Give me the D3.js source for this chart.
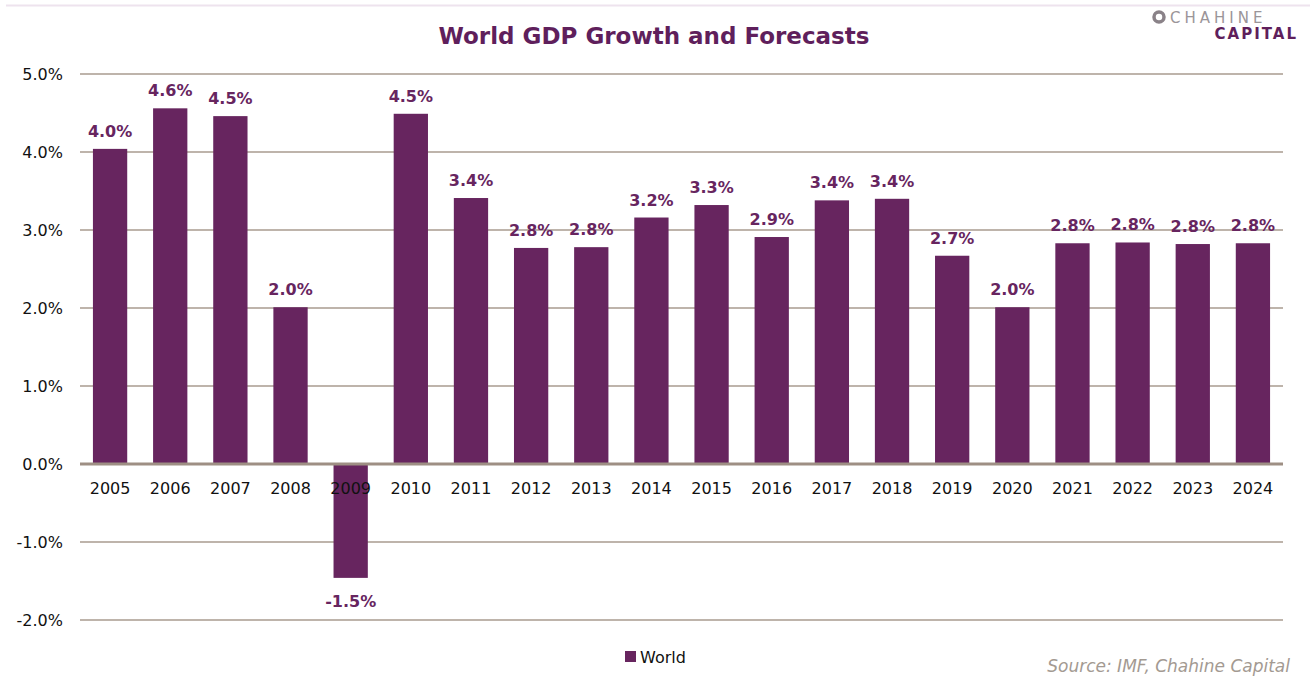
<!DOCTYPE html>
<html>
<head>
<meta charset="utf-8">
<script src="https://cdn.jsdelivr.net/npm/d3@7"></script>
<style>
  body { margin: 0; background: #fff; }
  text { font-family: "DejaVu Sans", Verdana, sans-serif; }
</style>
</head>
<body>
<div id="chart"></div>
<script>
// Data
const years = ["2005", "2006", "2007", "2008", "2009", "2010", "2011", "2012", "2013", "2014",
               "2015", "2016", "2017", "2018", "2019", "2020", "2021", "2022", "2023", "2024"];
const growth = [4.04, 4.56, 4.46, 2.01, -1.46, 4.49, 3.41, 2.77, 2.78, 3.16,
                3.32, 2.91, 3.38, 3.40, 2.67, 2.01, 2.83, 2.84, 2.82, 2.83];
const yTicks = [-2, -1, 0, 1, 2, 3, 4, 5];

const svgWidth = 1310;
const svgHeight = 677;
const margin = { top: 74, right: 27, bottom: 57, left: 80 };
const width = svgWidth - margin.left - margin.right;
const height = svgHeight - margin.top - margin.bottom;

const purple = "#67255f";
const gridColor = "#a99b8f";

// plain hyphen for negatives, like the original
const pct = d => d3.format(".1f")(d).replace("\u2212", "-") + "%";

const svg = d3.select("#chart")
    .append("svg")
    .attr("width", svgWidth)
    .attr("height", svgHeight);

// faint top border
svg.append("line")
    .attr("x1", 6).attr("x2", svgWidth)
    .attr("y1", 5.5).attr("y2", 5.5)
    .attr("stroke", "#eee3ee")
    .attr("stroke-width", 2);

const chartGroup = svg.append("g")
    .attr("transform", `translate(${margin.left}, ${margin.top})`);

const xScale = d3.scaleBand()
    .domain(years)
    .range([0, width])
    .paddingInner(0.43)
    .paddingOuter(0.215);

const yScale = d3.scaleLinear()
    .domain([-2, 5])
    .range([height, 0]);

// gridlines
chartGroup.selectAll("line.grid")
    .data(yTicks.filter(d => d !== 0))
    .enter()
    .append("line")
    .attr("class", "grid")
    .attr("x1", 0).attr("x2", width)
    .attr("y1", d => yScale(d)).attr("y2", d => yScale(d))
    .attr("stroke", gridColor)
    .attr("stroke-width", 1.5);

// y axis labels
const leftAxis = d3.axisLeft(yScale)
    .tickValues(yTicks)
    .tickSize(0)
    .tickPadding(17)
    .tickFormat(pct);

chartGroup.append("g")
    .call(leftAxis)
    .call(g => g.select(".domain").remove())
    .selectAll("text")
    .style("font-size", "16px")
    .attr("fill", "#111");

// bars
chartGroup.selectAll("rect.bar")
    .data(growth)
    .enter()
    .append("rect")
    .attr("class", "bar")
    .attr("x", (d, i) => xScale(years[i]))
    .attr("y", d => yScale(Math.max(0, d)))
    .attr("width", xScale.bandwidth())
    .attr("height", d => Math.abs(yScale(d) - yScale(0)))
    .attr("fill", purple);

// zero line
chartGroup.append("line")
    .attr("x1", 0).attr("x2", width)
    .attr("y1", yScale(0)).attr("y2", yScale(0))
    .attr("stroke", "#9e8f84")
    .attr("stroke-width", 3);

// x axis labels
const bottomAxis = d3.axisBottom(xScale).tickSize(0).tickPadding(19);
chartGroup.append("g")
    .attr("transform", `translate(0, ${yScale(0)})`)
    .call(bottomAxis)
    .call(g => g.select(".domain").remove())
    .selectAll("text")
    .style("font-size", "16px")
    .attr("fill", "#111");

// value labels
chartGroup.selectAll("text.val")
    .data(growth)
    .enter()
    .append("text")
    .attr("class", "val")
    .attr("x", (d, i) => xScale(years[i]) + xScale.bandwidth() / 2)
    .attr("y", d => d >= 0 ? yScale(d) - 12 : yScale(d) + 29)
    .attr("text-anchor", "middle")
    .attr("fill", purple)
    .style("font-size", "16px")
    .style("font-weight", "bold")
    .text(pct);

// title
svg.append("text")
    .attr("x", 654)
    .attr("y", 44)
    .attr("text-anchor", "middle")
    .attr("fill", "#5f1f5c")
    .style("font-size", "23px")
    .style("font-weight", "bold")
    .text("World GDP Growth and Forecasts");

// legend
svg.append("rect")
    .attr("x", 625).attr("y", 651)
    .attr("width", 11).attr("height", 11)
    .attr("fill", purple);
svg.append("text")
    .attr("x", 640).attr("y", 663)
    .attr("fill", "#111")
    .style("font-size", "16px")
    .text("World");

// source
svg.append("text")
    .attr("x", 1290).attr("y", 672)
    .attr("text-anchor", "end")
    .attr("fill", "#a39a92")
    .style("font-size", "17px")
    .style("font-style", "italic")
    .text("Source: IMF, Chahine Capital");

// logo
const logo = svg.append("g");
logo.append("circle")
    .attr("cx", 1159).attr("cy", 17)
    .attr("r", 5)
    .attr("fill", "none")
    .attr("stroke", "#8a8288")
    .attr("stroke-width", 3.5);
logo.append("text")
    .attr("x", 1170).attr("y", 23)
    .attr("fill", "#9b9599")
    .style("font-size", "15px")
    .style("letter-spacing", "4px")
    .text("CHAHINE");
logo.append("text")
    .attr("x", 1298).attr("y", 39)
    .attr("text-anchor", "end")
    .attr("fill", "#5f1f5c")
    .style("font-size", "15px")
    .style("font-weight", "bold")
    .style("letter-spacing", "2px")
    .text("CAPITAL");
</script>
</body>
</html>
